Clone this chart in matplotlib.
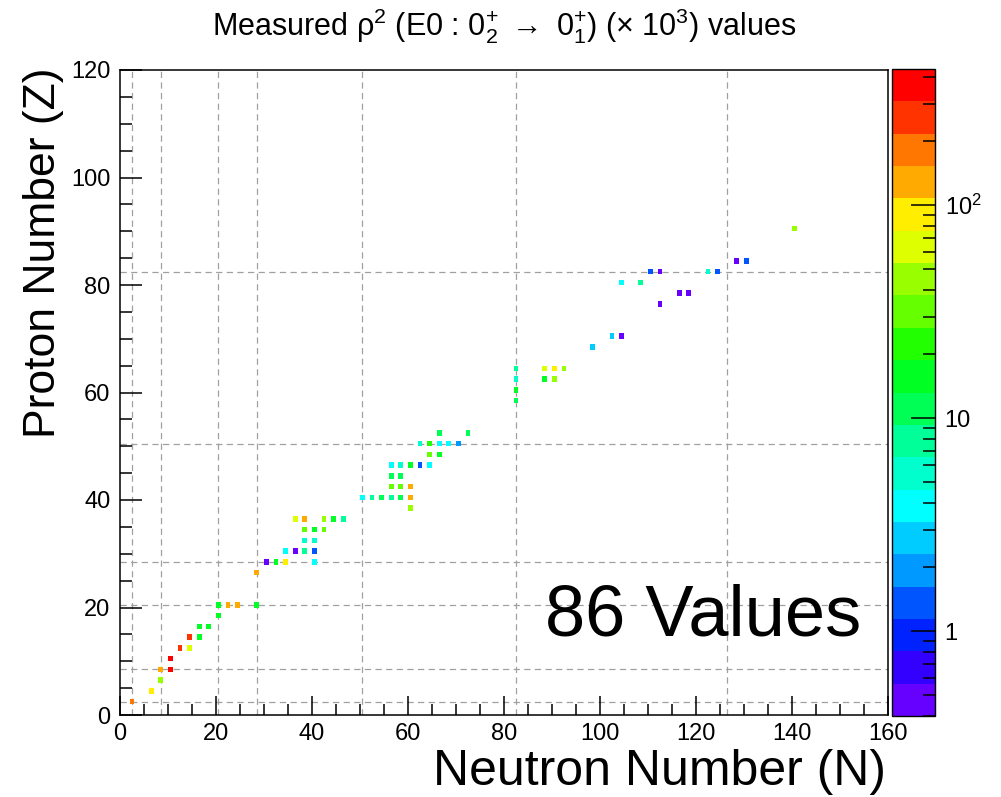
import numpy as np
import matplotlib
matplotlib.use("Agg")
import matplotlib.pyplot as plt
from matplotlib.colors import ListedColormap, LogNorm
from matplotlib.ticker import MultipleLocator, FixedLocator, LogLocator, NullFormatter, FuncFormatter

plt.rcParams['font.family'] = ['Liberation Sans', 'DejaVu Sans']
plt.rcParams['mathtext.fontset'] = 'custom'
plt.rcParams['mathtext.rm'] = 'Liberation Sans'
plt.rcParams['mathtext.it'] = 'Liberation Sans:italic'
plt.rcParams['mathtext.bf'] = 'Liberation Sans:bold'

# Even-even nuclei with a measured E0 (0+2 -> 0+1) strength
neutrons = [2, 6, 8, 8, 10, 10, 12, 14, 14, 16, 16, 18, 20, 20, 22, 24, 28, 28,
            30, 32, 34, 40, 34, 36, 38, 40, 38, 40, 38, 40, 42, 36, 38, 42, 44, 46,
            50, 52, 54, 56, 58, 60, 60, 56, 58, 60, 56, 58, 56, 58, 60, 62, 64,
            64, 66, 62, 64, 66, 68, 70, 66, 72,
            82, 82, 82, 82, 88, 90, 88, 90, 92,
            98, 102, 104, 112, 116, 118, 104, 108, 110, 112, 122, 124, 128, 130, 140]
protons = [2, 4, 6, 8, 8, 10, 12, 12, 14, 14, 16, 16, 18, 20, 20, 20, 20, 26,
           28, 28, 28, 28, 30, 30, 30, 30, 32, 32, 34, 34, 34, 36, 36, 36, 36, 36,
           40, 40, 40, 40, 40, 40, 38, 42, 42, 42, 44, 44, 46, 46, 46, 46, 46,
           48, 48, 50, 50, 50, 50, 50, 52, 52,
           58, 60, 62, 64, 62, 62, 64, 64, 64,
           68, 70, 70, 76, 78, 78, 80, 80, 82, 82, 82, 82, 84, 84, 90]
# rho^2(E0) x 10^3
rho2_e3 = [182, 91, 45, 129, 367, 367, 259, 64, 259, 16, 16, 16, 16, 16, 129, 129, 16, 129,
           0.48, 16, 91, 3.9, 3.9, 0.48, 7.8, 1.37, 5.5, 5.5, 32, 16, 32, 64, 129, 45, 16, 7.8,
           3.9, 7.8, 11, 7.8, 11, 129, 45, 32, 32, 129, 11, 11, 3.9, 5.5, 16, 1.37, 3.9,
           32, 16, 5.5, 22, 3.9, 3.9, 1.94, 11, 11,
           11, 16, 5.5, 7.8, 16, 45, 64, 91, 45,
           2.75, 2.75, 0.48, 0.48, 0.48, 0.48, 3.9, 7.8, 1.37, 0.48, 5.5, 1.37, 0.48, 1.37, 45]

magic_numbers = [2, 8, 20, 28, 50, 82, 126]

palette = ['#6600ff', '#3300ff', '#0022ff', '#0055ff', '#0099ff', '#00ccff',
           '#00ffff', '#00ffcc', '#00ff99', '#00ff55', '#00ff22', '#22ff00',
           '#66ff00', '#99ff00', '#ddff00', '#ffee00', '#ffaa00', '#ff7700',
           '#ff3300', '#ff0000']
z_min, z_max = 0.40, 436.0

W, H = 1001, 797
fig = plt.figure(figsize=(W / 100, H / 100), dpi=100)
ax = fig.add_axes([120 / W, 1 - 715 / H, 768 / W, 645 / H])

cmap = ListedColormap(palette)
norm = LogNorm(vmin=z_min, vmax=z_max)

grid = np.full((120, 160), np.nan)
for n, z, v in zip(neutrons, protons, rho2_e3):
    grid[z, n] = v
mesh = ax.pcolormesh(np.arange(161), np.arange(121), np.ma.masked_invalid(grid),
                     cmap=cmap, norm=norm, zorder=2)

# dashed lines just past the magic numbers
grid_style = dict(color='#a0a0a0', lw=0.9, ls=(0, (5, 3.5)), zorder=1)
for m in magic_numbers:
    ax.axvline(m + 0.5, **grid_style)
    if m + 0.5 < 120:
        ax.axhline(m + 0.5, **grid_style)

ax.set_xlim(0, 160)
ax.set_ylim(0, 120)
ax.xaxis.set_major_locator(MultipleLocator(20))
ax.xaxis.set_minor_locator(MultipleLocator(5))
ax.yaxis.set_major_locator(MultipleLocator(20))
ax.yaxis.set_minor_locator(MultipleLocator(5))
ax.tick_params(axis='both', which='both', direction='in', top=False, right=False,
               width=1.1, color='black', labelsize=17)
ax.tick_params(axis='x', which='major', length=13.7, pad=5.5)
ax.tick_params(axis='x', which='minor', length=7.9)
ax.tick_params(axis='y', which='major', length=15.8, pad=7)
ax.tick_params(axis='y', which='minor', length=8.6)
for sp in ax.spines.values():
    sp.set_linewidth(1.1)

# colour scale
cax = fig.add_axes([892 / W, 1 - 716 / H, 43 / W, 647 / H])
cb = fig.colorbar(mesh, cax=cax)
cb.outline.set_linewidth(1.0)
cax.yaxis.set_major_locator(FixedLocator([1, 10, 100]))
cax.yaxis.set_minor_locator(LogLocator(base=10, subs=np.arange(2, 10)))
cax.yaxis.set_minor_formatter(NullFormatter())
cax.yaxis.set_major_formatter(FuncFormatter(
    lambda v, pos: {1: '1', 10: '10', 100: r'$10^{2}$'}.get(int(round(v)), '')))
cax.tick_params(which='both', direction='in', left=False, right=True,
                width=1.1, color='black', labelsize=17, pad=7)
cax.tick_params(which='major', length=17)
cax.tick_params(which='minor', length=8.6)

fig.text(504 / W, 1 - 26 / H,
         r'Measured ρ$^{2}$ (E0 : $0^{+}_{2}$ $\rightarrow$ $0^{+}_{1}$) ($\times$ 10$^{3}$) values',
         fontsize=22, ha='center', va='center')
fig.text(43.5 / W, 1 - 68 / H, 'Proton Number (Z)', fontsize=32, rotation=90,
         ha='center', va='top')
fig.text(886 / W, 1 - 772 / H, 'Neutron Number (N)', fontsize=36,
         ha='right', va='center')
fig.text(545 / W, 1 - 636 / H, '86 Values', fontsize=52, ha='left', va='baseline')

fig.savefig('out.png', dpi=100)
